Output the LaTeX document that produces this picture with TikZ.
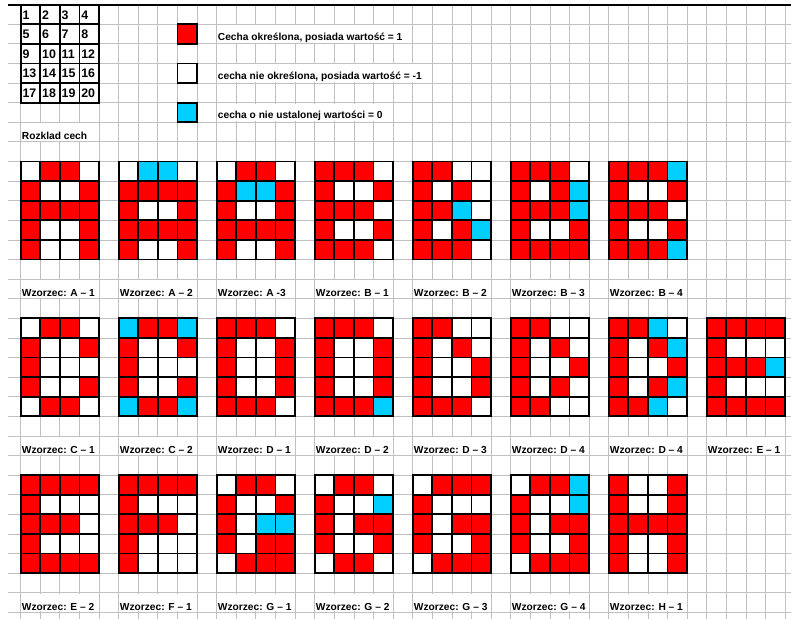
\documentclass[tikz,border=0pt]{standalone}
\usepackage{fontspec}
\setmainfont{Liberation Sans}
\definecolor{cR}{RGB}{255,0,0}
\definecolor{cW}{RGB}{255,255,255}
\definecolor{cC}{RGB}{0,206,255}
\definecolor{gridgray}{RGB}{192,192,192}
\tikzset{
  gridline/.style={draw=gridgray, line width=0.6pt},
  cellborder/.style={draw=black, line width=1.4pt, line cap=rect},
  txt/.style={font=\fontsize{7.4}{9}\selectfont\bfseries, inner sep=0pt, anchor=base west},
  numtxt/.style={font=\fontsize{9}{10}\selectfont\bfseries, inner sep=0pt, anchor=west},
}
\newcommand\wzor[5]{%
  \foreach \c [count=\i from 0] in {#4} {
    \pgfmathtruncatemacro\cx{#2+mod(\i,4)}
    \pgfmathtruncatemacro\cy{#3+int(\i/4)}
    \fill[c\c] (\cx,\cy) rectangle ++(1,1);
  }
  \foreach \k in {0,...,4} \draw[cellborder] (#2+\k,#3) -- (#2+\k,#3+5);
  \foreach \k in {0,...,5} \draw[cellborder] (#2,#3+\k) -- (#2+4,#3+\k);
  \fill[white] (#2+0.05,#3+6.05) rectangle (#2+3.95,#3+6.95);
  \node[txt] (l#1) at (#2+0.05,#3+6.9) {Wzorzec: #5};
}
\begin{document}
\begin{tikzpicture}[x=0.5cm,y=-0.5cm]
\useasboundingbox (-1.056,-0.24) rectangle (39.30,31.34);
\fill[white] (-1.056,-0.24) rectangle (39.30,31.34);
% background grid
\foreach \r in {1,...,31} \draw[gridline] (-0.65,\r) -- (39.3,\r);
\foreach \k in {0,...,39} \draw[gridline] (\k,0) -- (\k,31.34);
\draw[black, line width=1.2pt] (-0.65,0) -- (39.3,0);
% numbered table
\foreach \n in {1,...,20} {
  \pgfmathtruncatemacro\tx{mod(\n-1,4)}
  \pgfmathtruncatemacro\ty{int((\n-1)/4)}
  \node[numtxt] (n\n) at (\tx+0.08,\ty+0.52) {\n};
}
\foreach \k in {0,...,4} \draw[cellborder] (\k,0) -- (\k,5);
\foreach \k in {0,...,5} \draw[cellborder] (0,\k) -- (4,\k);
% legend
\filldraw[fill=cR, cellborder] (8,1) rectangle (9,2);
\filldraw[fill=cW, cellborder] (8,3) rectangle (9,4);
\filldraw[fill=cC, cellborder] (8,5) rectangle (9,6);
\fill[white] (10.05,1.05) rectangle (19.95,1.95);
\node[txt] (leg1) at (10.05,1.82) {Cecha określona, posiada wartość = 1};
\fill[white] (10.05,3.05) rectangle (20.95,3.95);
\node[txt] (leg2) at (10.05,3.82) {cecha nie określona, posiada wartość = -1};
\fill[white] (10.05,5.05) rectangle (18.95,5.95);
\node[txt] (leg3) at (10.05,5.82) {cecha o nie ustalonej wartości = 0};
\fill[white] (0.05,6.05) rectangle (3.95,6.95);
\node[txt] (title) at (0.05,6.9) {Rozklad cech};
% row 1
\wzor{A1}{0}{8}{W,R,R,W, R,W,W,R, R,R,R,R, R,W,W,R, R,W,W,R}{A – 1}
\wzor{A2}{5}{8}{W,C,C,W, R,R,R,R, R,W,W,R, R,R,R,R, R,W,W,R}{A – 2}
\wzor{A3}{10}{8}{W,R,R,W, R,C,C,R, R,W,W,R, R,R,R,R, R,W,W,R}{A -3}
\wzor{B1}{15}{8}{R,R,R,W, R,W,W,R, R,R,R,W, R,W,W,R, R,R,R,W}{B – 1}
\wzor{B2}{20}{8}{R,R,W,W, R,W,R,W, R,R,C,W, R,W,R,C, R,R,R,W}{B – 2}
\wzor{B3}{25}{8}{R,R,R,W, R,W,R,C, R,R,R,C, R,W,W,R, R,R,R,R}{B – 3}
\wzor{B4}{30}{8}{R,R,R,C, R,W,W,R, R,R,R,W, R,W,W,R, R,R,R,C}{B – 4}
% row 2
\wzor{C1}{0}{16}{W,R,R,W, R,W,W,R, R,W,W,W, R,W,W,R, W,R,R,W}{C – 1}
\wzor{C2}{5}{16}{C,R,R,C, R,W,W,R, R,W,W,W, R,W,W,R, C,R,R,C}{C – 2}
\wzor{D1}{10}{16}{R,R,R,W, R,W,W,R, R,W,W,R, R,W,W,R, R,R,R,W}{D – 1}
\wzor{D2}{15}{16}{R,R,R,W, R,W,W,R, R,W,W,R, R,W,W,R, R,R,R,C}{D – 2}
\wzor{D3}{20}{16}{R,R,W,W, R,W,R,W, R,W,W,R, R,W,W,R, R,R,R,W}{D – 3}
\wzor{D4}{25}{16}{R,R,W,W, R,W,R,W, R,W,W,R, R,W,R,W, R,R,W,W}{D – 4}
\wzor{D4b}{30}{16}{R,R,C,W, R,W,R,C, R,W,W,R, R,W,R,C, R,R,C,W}{D – 4}
\wzor{E1}{35}{16}{R,R,R,R, R,W,W,W, R,R,R,C, R,W,W,W, R,R,R,R}{E – 1}
% row 3
\wzor{E2}{0}{24}{R,R,R,R, R,W,W,W, R,R,R,W, R,W,W,W, R,R,R,R}{E – 2}
\wzor{F1}{5}{24}{R,R,R,R, R,W,W,W, R,R,R,W, R,W,W,W, R,W,W,W}{F – 1}
\wzor{G1}{10}{24}{W,R,R,W, R,W,W,R, R,W,C,C, R,W,R,R, W,R,R,R}{G – 1}
\wzor{G2}{15}{24}{W,R,R,W, R,W,W,C, R,W,R,R, R,W,W,R, W,R,R,W}{G – 2}
\wzor{G3}{20}{24}{W,R,R,R, R,W,W,W, R,W,R,R, R,W,W,R, W,R,R,R}{G – 3}
\wzor{G4}{25}{24}{W,R,R,C, R,W,W,C, R,W,R,R, R,W,W,R, W,R,R,R}{G – 4}
\wzor{H1}{30}{24}{R,W,W,R, R,W,W,R, R,R,R,R, R,W,W,R, R,W,W,R}{H – 1}
\end{tikzpicture}
\end{document}
